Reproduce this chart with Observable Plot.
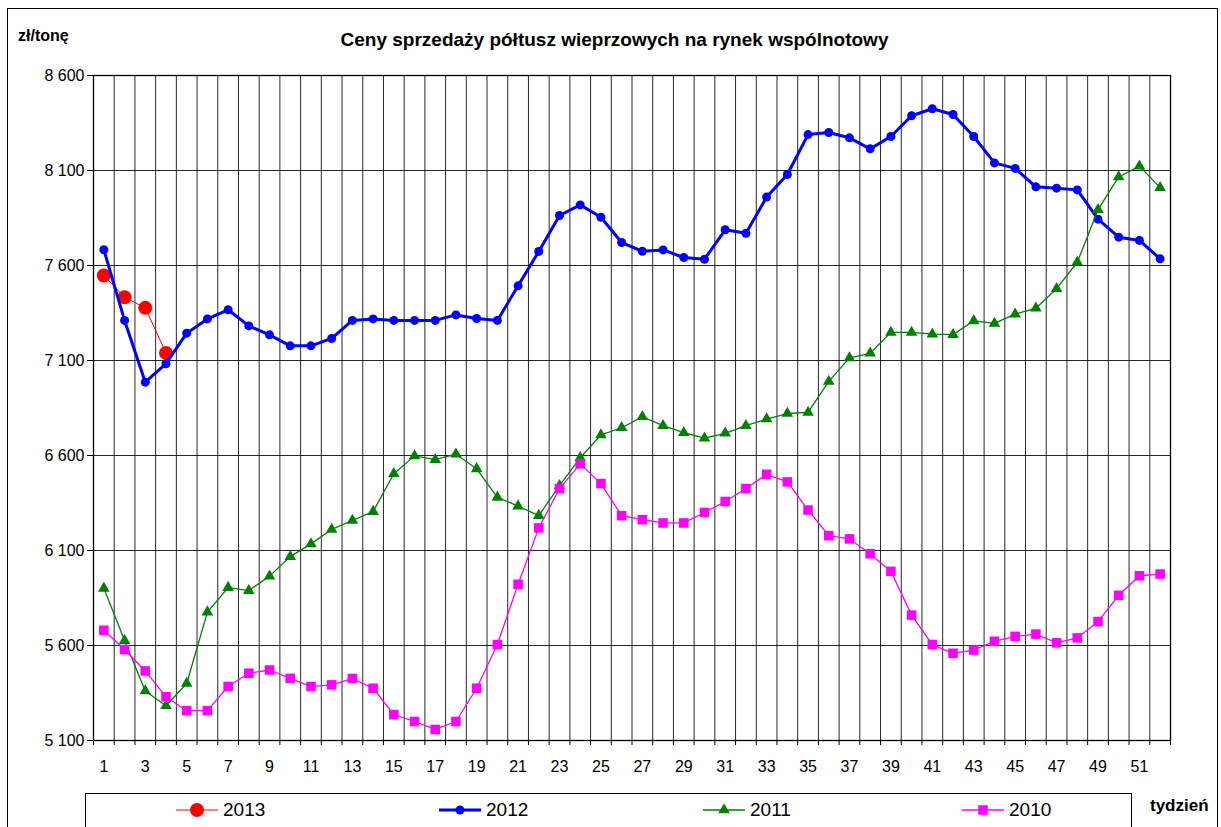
<!DOCTYPE html>
<html>
<head>
<meta charset="utf-8">
<script src="https://cdn.jsdelivr.net/npm/d3@7"></script>
<script src="https://cdn.jsdelivr.net/npm/@observablehq/plot@0.6"></script>
<style>
  html, body { margin: 0; padding: 0; background: #fff; }
  body { width: 1221px; height: 827px; position: relative; overflow: hidden; font-family: "Liberation Sans", Arial, sans-serif; }
  #frame { position: absolute; left: 7px; top: 8px; width: 1211px; height: 840px; border: 1.5px solid #000; box-sizing: border-box; }
  #chart { position: absolute; left: 0; top: 0; }
  #title { position: absolute; left: 0; width: 1229px; top: 29px; text-align: center; font-weight: bold; font-size: 19px; }
  #unit { position: absolute; left: 18px; top: 27px; font-weight: bold; font-size: 16px; }
  #xname { position: absolute; left: 1150px; top: 796px; font-weight: bold; font-size: 17px; }
  #legend { position: absolute; left: 85px; top: 793px; width: 1047px; height: 40px; border: 1.3px solid #000; box-sizing: border-box; }
  .item { position: absolute; top: 0; height: 32px; display: flex; align-items: center; font-size: 19px; }
  .item svg { margin-right: 5px; }
</style>
</head>
<body>
<div id="frame"></div>
<div id="chart"></div>
<div id="unit">zł/tonę</div>
<div id="title">Ceny sprzedaży półtusz wieprzowych na rynek wspólnotowy</div>
<div id="legend"></div>
<div id="xname">tydzień</div>
<script>
const weeks = [1,2,3,4,5,6,7,8,9,10,11,12,13,14,15,16,17,18,19,20,21,22,23,24,25,26,27,28,29,30,31,32,33,34,35,36,37,38,39,40,41,42,43,44,45,46,47,48,49,50,51,52];
const v2013 = [7547, 7433, 7377, 7140];
const v2012 = [7683,7311,6986,7083,7244,7319,7367,7282,7235,7177,
               7177,7216,7311,7319,7311,7311,7311,7340,7321,7311,
               7493,7674,7863,7919,7854,7721,7675,7682,7642,7633,
               7788,7770,7960,8079,8289,8300,8272,8214,8279,8388,
               8425,8395,8279,8140,8111,8014,8007,7998,7844,7749,7732,7635];
const v2011 = [5901,5626,5361,5283,5400,5776,5905,5889,5965,6068,
               6135,6211,6258,6305,6504,6598,6578,6607,6530,6380,
               6334,6284,6441,6588,6708,6746,6804,6757,6720,6691,
               6717,6757,6792,6821,6827,6990,7114,7138,7248,7248,
               7239,7236,7309,7295,7344,7375,7478,7617,7894,8066,8123,8010];
const v2010 = [5680,5579,5466,5330,5257,5257,5384,5454,5471,5427,
               5384,5393,5426,5375,5236,5200,5158,5200,5375,5605,
               5922,6219,6426,6556,6452,6283,6262,6245,6245,6300,
               6358,6426,6501,6461,6313,6178,6161,6083,5990,5760,
               5605,5559,5576,5622,5648,5660,5614,5640,5726,5864,5967,5976];
const yTicks = [5100, 5600, 6100, 6600, 7100, 7600, 8100, 8600];
const xLabels = [1,3,5,7,9,11,13,15,17,19,21,23,25,27,29,31,33,35,37,39,41,43,45,47,49,51];
const seriesNames = ["2013", "2012", "2011", "2010"];

const series = [
  {name: "2013", values: v2013, color: "#FF0000", width: 1, symbol: "circle", r: 7},
  {name: "2012", values: v2012, color: "#0000FF", width: 3, symbol: "circle", r: 4.5},
  {name: "2011", values: v2011, color: "#008000", width: 1.3, symbol: "triangle", r: 4.3},
  {name: "2010", values: v2010, color: "#FF00FF", width: 1.3, symbol: "square", r: 5.4}
];

const bounds = weeks.map(w => w - 0.5).concat([weeks[weeks.length - 1] + 0.5]);
const fmt = v => d3.format(",")(v).replace(",", " ");

const marks = [
  Plot.ruleX(bounds, {stroke: "#000", strokeWidth: 1, strokeOpacity: 0.85}),
  Plot.ruleY(yTicks, {stroke: "#000", strokeWidth: 1, strokeOpacity: 0.85}),
  Plot.axisY({ticks: yTicks, tickFormat: fmt, tickSize: 6, label: null, fontSize: 16, tickPadding: 3}),
  Plot.axisX({ticks: bounds, tickFormat: () => "", tickSize: 5, label: null}),
  Plot.axisX({ticks: xLabels, tickSize: 0, tickPadding: 20, label: null, fontSize: 16}),
];
for (const s of series) {
  const data = s.values.map((v, i) => ({week: weeks[i], value: v}));
  marks.push(Plot.line(data, {x: "week", y: "value", stroke: s.color, strokeWidth: s.width}));
  marks.push(Plot.dot(data, {x: "week", y: "value", fill: s.color, stroke: "none", symbol: s.symbol, r: s.r}));
}
marks.push(Plot.frame({stroke: "#000", strokeWidth: 1.3}));

const chart = Plot.plot({
  width: 1221,
  height: 780,
  marginLeft: 93,
  marginRight: 51,
  marginTop: 75,
  marginBottom: 40,
  style: {fontFamily: "Liberation Sans, Arial, sans-serif", fontSize: "16px", color: "#000", background: "transparent"},
  x: {type: "linear", domain: [0.5, 52.5]},
  y: {domain: [5100, 8600]},
  marks
});
document.getElementById("chart").appendChild(chart);

// legend
const legend = document.getElementById("legend");
const lefts = [90, 353, 617, 876];
series.forEach((s, i) => {
  const div = document.createElement("div");
  div.className = "item";
  div.style.left = lefts[i] + "px";
  const sym = d3.symbol().type(s.symbol === "circle" ? d3.symbolCircle : s.symbol === "triangle" ? d3.symbolTriangle : d3.symbolSquare).size(Math.PI * s.r * s.r);
  div.innerHTML = `<svg width="42" height="20"><line x1="0" x2="42" y1="10" y2="10" stroke="${s.color}" stroke-width="${s.width}"/><path transform="translate(21,10)" d="${sym()}" fill="${s.color}"/></svg><span>${seriesNames[i]}</span>`;
  legend.appendChild(div);
});
</script>
</body>
</html>
